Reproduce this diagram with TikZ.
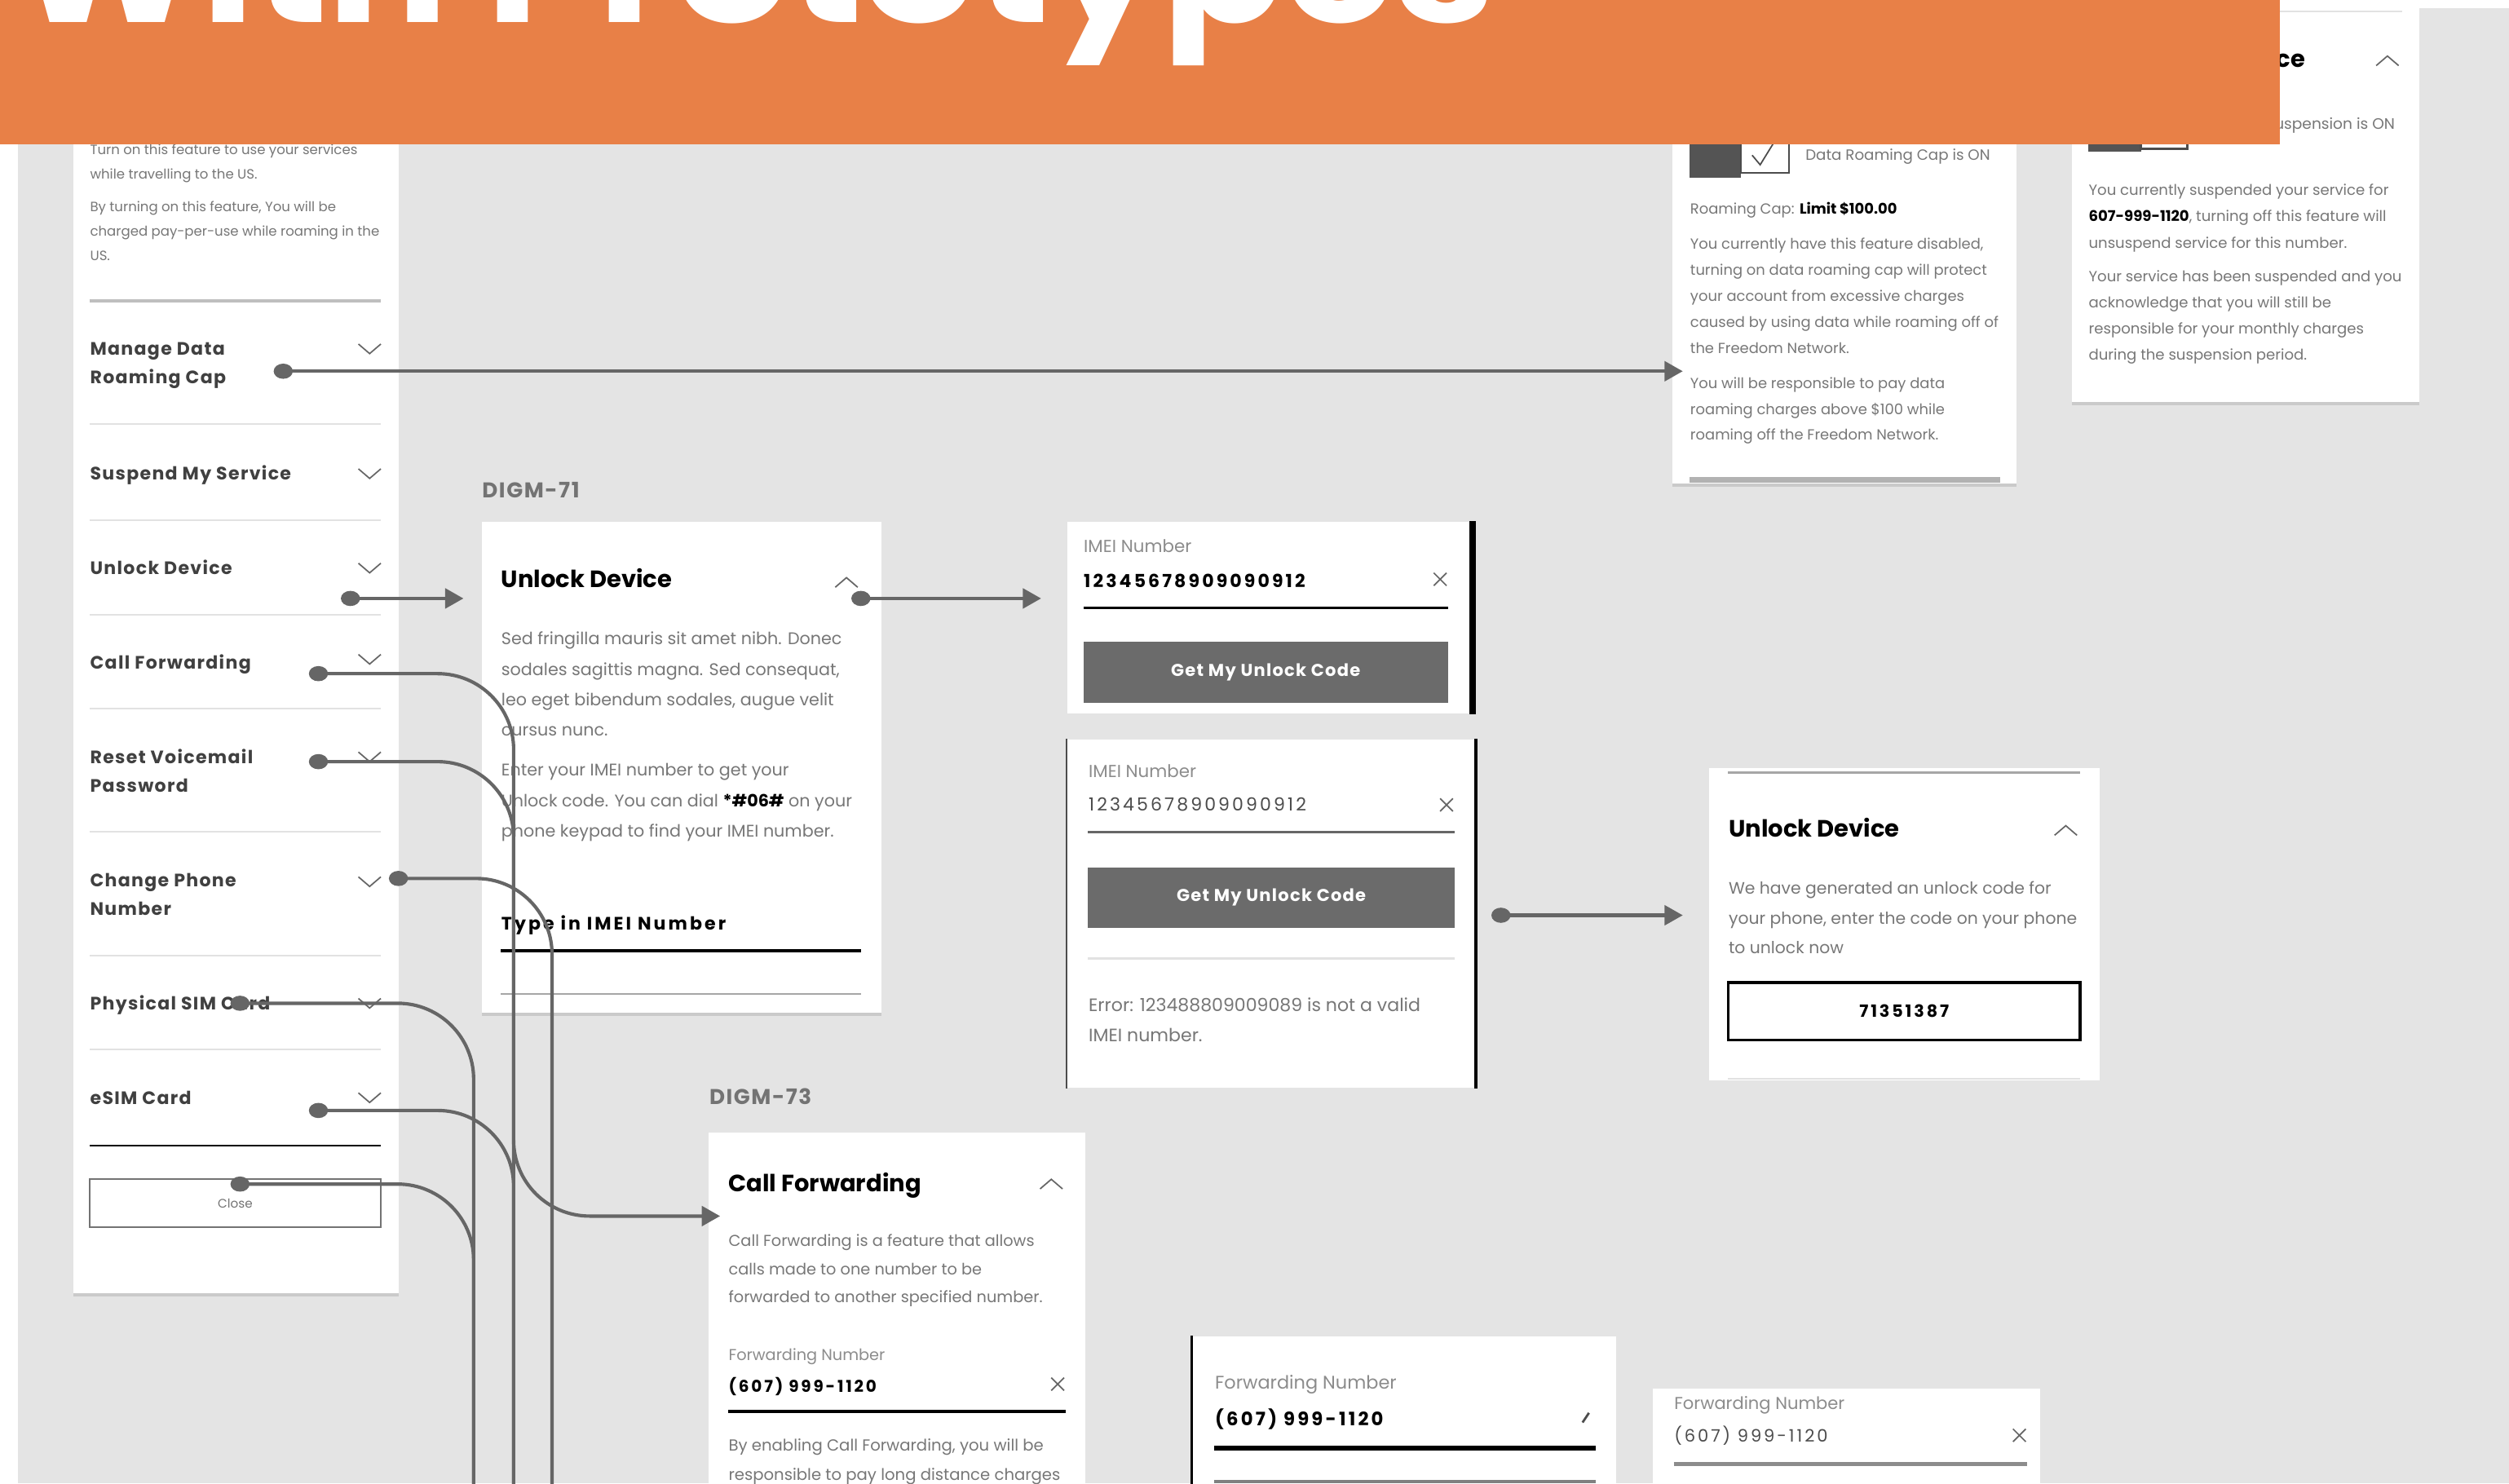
\documentclass[tikz,border=0pt]{standalone}
\usepackage{fontspec}
\setmainfont{Poppins}
\newfontfamily\spacedfont{Poppins}[LetterSpace=14]
\newfontfamily\widefont{Poppins}[LetterSpace=6]
\newfontfamily\bannerfont{Poppins}[FakeStretch=1.1]
\usetikzlibrary{arrows.meta, calc, fit, shapes.geometric, shadows}

\definecolor{canvas}{HTML}{E4E4E4}
\definecolor{banner}{HTML}{E88047}
\definecolor{wire}{HTML}{666666}
\definecolor{btn}{HTML}{6B6B6B}
\definecolor{copy}{HTML}{777777}
\definecolor{hint}{HTML}{8C8C8C}
\definecolor{rule}{HTML}{E2E2E2}

\newcommand{\fsz}[2]{\fontsize{#1}{#2}\selectfont}
\newcommand{\xmark}[2]{\draw[chev] (#1-4,#2-4) -- (#1+4,#2+4) (#1-4,#2+4) -- (#1+4,#2-4);}

\tikzset{
  panel/.style={fill=white, inner sep=0pt, draw=none},
  card/.style={panel, drop shadow={shadow xshift=0pt, shadow yshift=-1.2pt, opacity=.25}},
  txt/.style={anchor=base west, inner sep=0pt, text=copy},
  item/.style={txt, text=black!75, font=\widefont\bfseries\fsz{6.4}{8}},
  head/.style={txt, text=black, font=\bfseries\fsz{8.4}{10}},
  tag/.style={txt, text=black!55, font=\widefont\bfseries\fsz{7.6}{9}},
  fieldname/.style={txt, text=hint, font=\fsz{5.6}{7}},
  digits/.style={txt, text=black, font=\spacedfont\bfseries\fsz{6.4}{8}},
  dot/.style={ellipse, fill=wire, inner sep=0pt, minimum width=6.8pt, minimum height=5.4pt},
  wire/.style={draw=wire, line width=1.2pt},
  link/.style={wire, -{Triangle[length=6.5pt, width=7pt]}},
  elbow/.style={wire, rounded corners=27pt},
  chev/.style={draw=black!60, line width=.5pt},
}

\begin{document}
\begin{tikzpicture}[x=0.02cm, y=-0.02cm]
\clip (0,0) rectangle (1568,927);
\fill[canvas] (0,0) rectangle (1568,927);
\fill[white] (0,0) rectangle (11,927);
\fill[white] (0,0) rectangle (1568,5);

% panels
\node[card, fit={(46,60) (249,808)}] (menu) {};
\node[card, fit={(1045,0) (1260,302)}] (roam) {};
\node[card, fit={(1295,5) (1512,251)}] (susp) {};
\node[card, fit={(301,326) (551,633)}] (unlock) {};
\node[panel, fit={(667,326) (920,446)}] (imei) {};
\node[panel, fit={(667,462) (922,680)}] (err) {};
\node[panel, fit={(1068,480) (1312,675)}] (code) {};
\node[card, fit={(443,708) (678,940)}] (fwd) {};
\node[panel, fit={(745,835) (1010,940)}] (fwdEdit) {};
\node[panel, fit={(1033,868) (1275,940)}] (fwdSaved) {};

% menu
\foreach \ln [count=\i] in {{Turn on this feature to use your services}, {while travelling to the US.}}
  \node[txt, font=\fsz{4.8}{6}] (intro-\i) at (56,81+15.5*\i) {\ln};
\foreach \ln [count=\i] in {{By turning on this feature, You will be}, {charged pay-per-use while roaming in the}, {US.}}
  \node[txt, font=\fsz{4.8}{6}] (warn-\i) at (56,116.5+15.5*\i) {\ln};
\draw[black!25, line width=1.3pt] (56,188) -- (238,188);
\foreach \y in {265,325,384,443,520,597,656}
  \draw[rule, line width=.6pt] (56,\y) -- (238,\y);
\draw[black, line width=.5pt] (56,716) -- (238,716);

\node[item] (mRoam) at (56,222) {Manage Data};
\node[item] (mRoam2) at (56,240) {Roaming Cap};
\node[item] (mSusp) at (56,300) {Suspend My Service};
\node[item] (mUnl) at (56,359) {Unlock Device};
\node[item] (mCall) at (56,418) {Call Forwarding};
\node[item] (mReset) at (56,477) {Reset Voicemail};
\node[item] (mReset2) at (56,495) {Password};
\node[item] (mPhone) at (56,554) {Change Phone};
\node[item] (mPhone2) at (56,572) {Number};
\node[item] (mSim) at (56,631) {Physical SIM Card};
\node[item] (mEsim) at (56,690) {eSIM Card};
\foreach \y in {218,296,355,412,473,551,627,686}
  \draw[chev, shift={(231,\y)}] (-7,-3) -- (0,3) -- (7,-3);
\node[draw=black!55, line width=.6pt, inner sep=0pt, fit={(56,737) (238,767)}] (close) {};
\node[text=black!55, font=\fsz{4.4}{5}] (closeLbl) at (close.center) {Close};

% data roaming cap
\fill[black!67] (1056,70) rectangle (1088,111);
\node[draw=black!70, fill=white, line width=.8pt, inner sep=0pt, fit={(1088,70) (1118,108)}] (roamTgl) {};
\draw[black!70, line width=.5pt] (1095,97) -- (1100,103) -- (1108,90);
\node[txt, font=\fsz{5.3}{7}] (roamOn) at (1128,100) {Data Roaming Cap is ON};
\node[txt, font=\fsz{5.2}{7}] (roamCap) at (1056,134) {Roaming Cap: \textcolor{black}{\bfseries Limit \$100.00}};
\foreach \ln [count=\i] in {{You currently have this feature disabled,}, {turning on data roaming cap will protect}, {your account from excessive charges}, {caused by using data while roaming off of}, {the Freedom Network.}}
  \node[txt, font=\fsz{5.2}{6}] (roamA-\i) at (1056,139.5+16.3*\i) {\ln};
\foreach \ln [count=\i] in {{You will be responsible to pay data}, {roaming charges above \$100 while}, {roaming off the Freedom Network.}}
  \node[txt, font=\fsz{5.2}{6}] (roamB-\i) at (1056,227+16*\i) {\ln};
\draw[black!30, line width=2pt] (1056,300) -- (1250,300);

% suspend my service
\draw[rule, line width=.6pt] (1305,7) -- (1501,7);
\node[head, anchor=base east] (suspTtl) at (1441,42) {Suspend My Service};
\draw[chev, shift={(1492,38)}] (-7,3) -- (0,-3) -- (7,3);
\fill[black!67] (1305,70) rectangle (1338,95);
\node[draw=black!70, fill=white, line width=.8pt, inner sep=0pt, fit={(1338,70) (1367,93)}] (suspTgl) {};
\node[txt, anchor=base east, font=\fsz{5.4}{7}] (suspOn) at (1497,81) {Suspension is ON};
\foreach \ln [count=\i] in {{You currently suspended your service for}, {\textcolor{black}{\bfseries 607-999-1120}, turning off this feature will}, {unsuspend service for this number.}}
  \node[txt, font=\fsz{5.25}{6}] (suspA-\i) at (1305,105.5+16.5*\i) {\ln};
\foreach \ln [count=\i] in {{Your service has been suspended and you}, {acknowledge that you will still be}, {responsible for your monthly charges}, {during the suspension period.}}
  \node[txt, font=\fsz{5.25}{6}] (suspB-\i) at (1305,159.5+16.4*\i) {\ln};

% DIGM-71 unlock device
\node[tag] (tag71) at (301,311) {DIGM-71};
\node[head] (unlTtl) at (313,367) {Unlock Device};
\draw[chev, shift={(529,364)}] (-7,3) -- (0,-3) -- (7,3);
\foreach \ln [count=\i] in {{Sed fringilla mauris sit amet nibh. Donec}, {sodales sagittis magna. Sed consequat,}, {leo eget bibendum sodales, augue velit}, {cursus nunc.}}
  \node[txt, font=\fsz{6.0}{7}] (unlA-\i) at (313,384+19*\i) {\ln};
\foreach \ln [count=\i] in {{Enter your IMEI number to get your}, {Unlock code. You can dial \textcolor{black}{\bfseries *\#06\#} on your}, {phone keypad to find your IMEI number.}}
  \node[txt, font=\fsz{6.0}{7}] (unlB-\i) at (313,466+19*\i) {\ln};
\node[digits] (unlType) at (313,581) {Type in IMEI Number};
\draw[black, line width=1.1pt] (313,594) -- (538,594);
\draw[black!35, line width=.6pt] (313,621) -- (538,621);

% IMEI entry
\draw[black, line width=2.2pt] (imei.north east) -- (imei.south east);
\node[fieldname, font=\fsz{6.2}{7}] (imeiLbl) at (677,345) {IMEI Number};
\node[digits] (imeiNum) at (677,367) {12345678909090912};
\xmark{900}{362}
\draw[black, line width=1pt] (677,380) -- (905,380);
\node[fill=btn, inner sep=0pt, fit={(677,401) (905,439)}] (getBtn) {};
\node[text=white, font=\widefont\bfseries\fsz{6.1}{7}] (getLbl) at (getBtn.center) {Get My Unlock Code};

% IMEI error
\draw[black!70, line width=.6pt] (err.north west) -- (err.south west);
\draw[black, line width=1pt] (err.north east) -- (err.south east);
\node[fieldname, font=\fsz{6.2}{7}] (errLbl) at (680,486) {IMEI Number};
\node[digits, text=black!70, font=\spacedfont\fsz{6.4}{8}] (errNum) at (680,507) {12345678909090912};
\xmark{904}{503}
\draw[black!60, line width=1pt] (680,520) -- (909,520);
\node[fill=btn, inner sep=0pt, fit={(680,542) (909,580)}] (errBtn) {};
\node[text=white, font=\widefont\bfseries\fsz{6.1}{7}] (errBtnLbl) at (errBtn.center) {Get My Unlock Code};
\draw[rule, line width=.6pt] (680,599) -- (909,599);
\node[txt, font=\fsz{6.4}{7}] (errMsg) at (680,632) {Error: 123488809009089 is not a valid};
\node[txt, font=\fsz{6.4}{7}] (errMsg2) at (680,651) {IMEI number.};

% unlock code
\draw[black!35, line width=.8pt] (1080,483) -- (1300,483);
\node[head] (codeTtl) at (1080,523) {Unlock Device};
\draw[chev, shift={(1291,519)}] (-7,3) -- (0,-3) -- (7,3);
\foreach \ln [count=\i] in {{We have generated an unlock code for}, {your phone, enter the code on your phone}, {to unlock now}}
  \node[txt, font=\fsz{5.9}{7}] (codeA-\i) at (1080,540.5+18.5*\i) {\ln};
\node[draw=black, line width=1pt, inner sep=0pt, fit={(1080,614) (1300,650)}] (codeBox) {};
\node[text=black, font=\spacedfont\bfseries\fsz{6.0}{7}] (codeNum) at (codeBox.center) {71351387};
\draw[rule, line width=.6pt] (1080,674) -- (1300,674);

% DIGM-73 call forwarding
\node[tag] (tag73) at (443,690) {DIGM-73};
\node[head] (fwdTtl) at (455,745) {Call Forwarding};
\draw[chev, shift={(657,740)}] (-7,3) -- (0,-3) -- (7,3);
\foreach \ln [count=\i] in {{Call Forwarding is a feature that allows}, {calls made to one number to be}, {forwarded to another specified number.}}
  \node[txt, font=\fsz{5.6}{7}] (fwdA-\i) at (455,761.5+17.5*\i) {\ln};
\node[fieldname] (fwdLbl) at (455,850) {Forwarding Number};
\node[digits, font=\spacedfont\bfseries\fsz{5.8}{7}] (fwdNum) at (455,870) {(607) 999-1120};
\xmark{661}{865}
\draw[black, line width=1.1pt] (455,882) -- (666,882);
\foreach \ln [count=\i] in {{By enabling Call Forwarding, you will be}, {responsible to pay long distance charges}}
  \node[txt, font=\fsz{5.7}{7}] (fwdB-\i) at (455,889+18*\i) {\ln};

\draw[black, line width=1pt] (fwdEdit.north west) -- (fwdEdit.south west);
\node[fieldname, font=\fsz{6.5}{8}] (editLbl) at (759,868) {Forwarding Number};
\node[digits, font=\spacedfont\bfseries\fsz{6.6}{8}] (editNum) at (759,891) {(607) 999-1120};
\draw[black!70, line width=.8pt] (989,889) -- (993,883);
\draw[black, line width=1.6pt] (759,905) -- (997,905);
\draw[black!50, line width=1pt] (759,926) -- (997,926);

\node[fieldname, font=\fsz{6.1}{7}] (savedLbl) at (1046,881) {Forwarding Number};
\node[digits, text=black!70, font=\spacedfont\fsz{6.1}{7}] (savedNum) at (1046,901) {(607) 999-1120};
\xmark{1262}{897}
\draw[black!45, line width=1.5pt] (1046,915) -- (1267,915);

% connectors
\node[dot] (dRoam) at (177,232) {};
\node[dot] (dUnl) at (219,374) {};
\node[dot] (dCall) at (199,421) {};
\node[dot] (dReset) at (199,476) {};
\node[dot] (dPhone) at (249,549) {};
\node[dot] (dSim) at (150,627) {};
\node[dot] (dEsim) at (199,694) {};
\node[dot] (dClose) at (150,740) {};
\node[dot] (dImei) at (538,374) {};
\node[dot] (dErr) at (938,572) {};
\coordinate (colA) at (296,940);
\coordinate (colB) at (321,940);
\coordinate (colC) at (345,940);
\coordinate (callIn) at (450,760);

\draw[link] (dRoam.center) -- ($(dRoam -| roam.west)+(7,0)$);
\draw[link] (dUnl.center) -- ($(dUnl -| unlock.west)+(-11,0)$);
\draw[link] (dImei.center) -- ($(dImei -| imei.west)+(-16,0)$);
\draw[link] (dErr.center) -- ($(dErr -| code.west)+(-16,0)$);
\draw[elbow, -{Triangle[length=6.5pt, width=7pt]}] (dCall.center) -| (colB |- callIn) -- (callIn);
\draw[elbow] (dReset.center) -| (colB);
\draw[elbow] (dEsim.center) -| (colB);
\draw[elbow] (dSim.center) -| (colA);
\draw[elbow] (dClose.center) -| (colA);
\draw[elbow] (dPhone.center) -| (colC);

% banner
\fill[banner] (0,0) rectangle (1425,90);
\node[anchor=base west, inner sep=0pt, text=white, font=\bannerfont\bfseries\fsz{58}{62}] (title) at (8,14) {With Prototypes};
\end{tikzpicture}
\end{document}
